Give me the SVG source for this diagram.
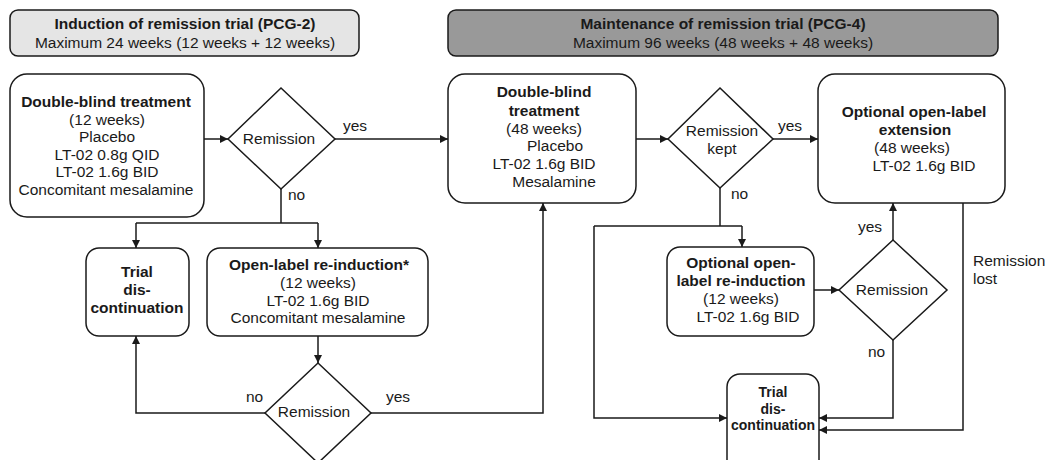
<svg xmlns="http://www.w3.org/2000/svg" width="1047" height="460" viewBox="0 0 1047 460">
<defs>
<style>
.b{fill:#fff;stroke:#1a1a1a;stroke-width:1.5}
.h1{fill:#e5e5e5;stroke:#1a1a1a;stroke-width:1.5}
.h2{fill:#999999;stroke:#1a1a1a;stroke-width:1.5}
text{font-family:"Liberation Sans",Arial,sans-serif;font-size:15.5px;fill:#1a1a1a;text-anchor:middle}
.bd{font-weight:bold}
.sm{font-size:14px}
.l{text-anchor:start}
.c{fill:none;stroke:#1a1a1a;stroke-width:1.5}
</style>
<marker id="ar" viewBox="0 0 10 10" refX="10" refY="5" markerWidth="8" markerHeight="8" markerUnits="userSpaceOnUse" orient="auto"><path d="M0,0 L10,5 L0,10 z" fill="#1a1a1a"/></marker>
</defs>
<g id="header1"><rect class="h1" x="10" y="10" width="349" height="46" rx="8"/><text class="bd" x="185" y="29">Induction of remission trial (PCG-2)</text><text x="185" y="48">Maximum 24 weeks (12 weeks + 12 weeks)</text></g>
<g id="header2"><rect class="h2" x="448" y="10" width="550" height="46" rx="8"/><text class="bd" x="723" y="29">Maintenance of remission trial (PCG-4)</text><text x="723" y="48">Maximum 96 weeks (48 weeks + 48 weeks)</text></g>
<g id="db1"><rect class="b" x="10" y="74" width="194" height="143" rx="17"/><text class="bd" x="106" y="107">Double-blind treatment</text><text x="107" y="124.5">(12 weeks)</text><text x="107" y="142">Placebo</text><text x="107" y="159.5">LT-02 0.8g QID</text><text x="107" y="177">LT-02 1.6g BID</text><text x="106" y="194.5">Concomitant mesalamine</text></g>
<g id="d1"><polygon class="b" points="281,88 335,139 281,189 228,139"/><text x="279" y="144">Remission</text></g>
<g id="db2"><rect class="b" x="448" y="74" width="188" height="129" rx="17"/><text class="bd" x="544" y="97">Double-blind</text><text class="bd" x="544" y="116">treatment</text><text x="544" y="134">(48 weeks)</text><text x="555" y="151">Placebo</text><text x="544" y="169">LT-02 1.6g BID</text><text x="554" y="187">Mesalamine</text></g>
<g id="d2"><polygon class="b" points="720,88 773,139 720,188 668,139"/><text x="722" y="136">Remission</text><text x="722" y="154">kept</text></g>
<g id="ext"><rect class="b" x="818" y="74" width="187" height="129" rx="17"/><text class="bd" x="914" y="117">Optional open-label</text><text class="bd" x="915" y="135">extension</text><text x="912" y="153">(48 weeks)</text><text x="924" y="171">LT-02 1.6g BID</text></g>
<g id="trial1"><rect class="b" x="86" y="248" width="103" height="88" rx="13"/><text class="bd" x="137" y="277">Trial</text><text class="bd" x="137" y="295">dis-</text><text class="bd" x="137" y="313">continuation</text></g>
<g id="reind"><rect class="b" x="207" y="248" width="221" height="88" rx="13"/><text class="bd" x="319" y="270">Open-label re-induction*</text><text x="318" y="288">(12 weeks)</text><text x="318" y="305.5">LT-02 1.6g BID</text><text x="318" y="323">Concomitant mesalamine</text></g>
<g id="d3"><polygon class="b" points="318,363 371,413 318,463 265,413"/><text x="314" y="417">Remission</text></g>
<g id="optre"><rect class="b" x="667" y="247" width="147" height="89" rx="13"/><text class="bd" x="741" y="268">Optional open-</text><text class="bd" x="741" y="286">label re-induction</text><text x="741" y="304">(12 weeks)</text><text x="748" y="322">LT-02 1.6g BID</text></g>
<g id="d4"><polygon class="b" points="893,240 947,290 893,340 839,290"/><text x="892" y="295">Remission</text></g>
<g id="trial2"><rect class="b" x="727" y="374" width="92" height="100" rx="13"/><text class="bd sm" x="773" y="397">Trial</text><text class="bd sm" x="773" y="414">dis-</text><text class="bd sm" x="773" y="430">continuation</text></g>
<g id="connectors">
<path class="c" d="M204,139 H228" marker-end="url(#ar)"/>
<path class="c" d="M335,139 H448" marker-end="url(#ar)"/>
<path class="c" d="M281,189 V223"/>
<path class="c" d="M136,223 H318"/>
<path class="c" d="M136,223 V248" marker-end="url(#ar)"/>
<path class="c" d="M318,223 V248" marker-end="url(#ar)"/>
<path class="c" d="M318,336 V363" marker-end="url(#ar)"/>
<path class="c" d="M265,413 H136 V336" marker-end="url(#ar)"/>
<path class="c" d="M371,413 H543 V203" marker-end="url(#ar)"/>
<path class="c" d="M636,139 H668" marker-end="url(#ar)"/>
<path class="c" d="M773,139 H818" marker-end="url(#ar)"/>
<path class="c" d="M720,188 V226"/>
<path class="c" d="M594,226 H742"/>
<path class="c" d="M742,226 V247" marker-end="url(#ar)"/>
<path class="c" d="M594,226 V418 H727" marker-end="url(#ar)"/>
<path class="c" d="M814,290 H839" marker-end="url(#ar)"/>
<path class="c" d="M893,240 V203" marker-end="url(#ar)"/>
<path class="c" d="M893,340 V418 H819" marker-end="url(#ar)"/>
<path class="c" d="M963,203 V430 H819" marker-end="url(#ar)"/>
</g>
<g id="labels">
<text class="l" x="343" y="131">yes</text>
<text class="l" x="288" y="200">no</text>
<text class="l" x="246" y="402">no</text>
<text class="l" x="386" y="402">yes</text>
<text class="l" x="778" y="131">yes</text>
<text class="l" x="731" y="199">no</text>
<text class="l" x="858" y="232">yes</text>
<text class="l" x="868" y="357">no</text>
<text class="l" x="973" y="266">Remission</text>
<text class="l" x="973" y="284">lost</text>
</g>
</svg>
